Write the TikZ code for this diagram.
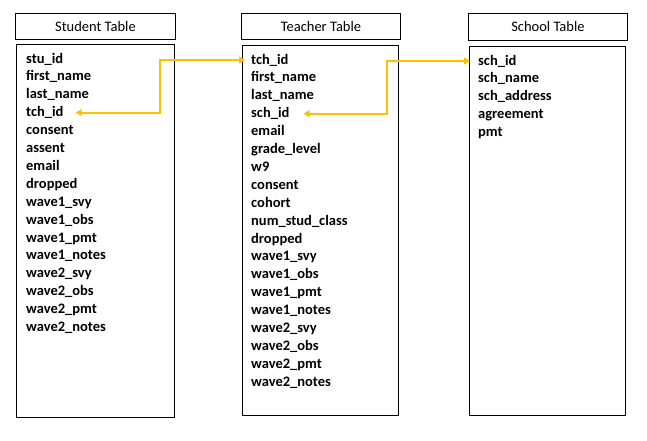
\documentclass[tikz,border=0pt]{standalone}
\usepackage{fontspec}
\setmainfont{Carlito}
\usetikzlibrary{arrows.meta, positioning, calc}
\definecolor{linkorange}{RGB}{255,192,0}
\tikzset{
    tablehead/.style={
        rectangle, draw=black, line width=0.9pt, anchor=north west,
        inner sep=0pt, text centered, font=\fontsize{14.5}{16}\selectfont
    },
    tablebody/.style={
        rectangle, draw=black, line width=0.9pt, anchor=north west, inner sep=0pt
    },
    field/.style={
        anchor=base west, inner sep=0pt, font=\fontsize{14.5}{16}\selectfont\bfseries
    },
    link/.style={
        draw=linkorange, line width=1.8pt,
        {Triangle[width=7pt,length=6pt]}-{Triangle[width=7pt,length=6pt]}
    }
}

\begin{document}
\begin{tikzpicture}[x=1pt, y=-1pt]

\useasboundingbox (0,0) rectangle (647,440);

% Student table
\node[tablehead, minimum width=160pt, minimum height=26pt] (stuhead) at (15,13) {Student Table};
\node[tablebody, minimum width=158pt, minimum height=373pt] (stubody) at (16,44) {};
\foreach \f [count=\i] in {stu\_id, first\_name, last\_name, tch\_id, consent, assent, email, dropped,
    wave1\_svy, wave1\_obs, wave1\_pmt, wave1\_notes, wave2\_svy, wave2\_obs, wave2\_pmt, wave2\_notes}
    \node[field] (stu\i) at (26,{63+17.9*(\i-1)}) {\f};

% Teacher table
\node[tablehead, minimum width=159pt, minimum height=26pt] (tchhead) at (241,13) {Teacher Table};
\node[tablebody, minimum width=156pt, minimum height=370pt] (tchbody) at (242,45) {};
\foreach \f [count=\i] in {tch\_id, first\_name, last\_name, sch\_id, email, grade\_level, w9, consent,
    cohort, num\_stud\_class, dropped, wave1\_svy, wave1\_obs, wave1\_pmt, wave1\_notes,
    wave2\_svy, wave2\_obs, wave2\_pmt, wave2\_notes}
    \node[field] (tch\i) at (251,{64+17.9*(\i-1)}) {\f};

% School table
\node[tablehead, minimum width=159pt, minimum height=27pt] (schhead) at (468,13) {School Table};
\node[tablebody, minimum width=156pt, minimum height=369pt] (schbody) at (469,46) {};
\foreach \f [count=\i] in {sch\_id, sch\_name, sch\_address, agreement, pmt}
    \node[field] (sch\i) at (478,{65+17.9*(\i-1)}) {\f};

% Keys
\coordinate (stukey) at ([xshift=12pt]stu4.east);
\coordinate (tchkey) at ([xshift=-6pt]tch1.west);
\coordinate (tchfk) at ([xshift=14pt]tch4.east);
\coordinate (schkey) at ([xshift=-8pt]sch1.west);
\draw[link] (stukey) -| ($(stukey)!.5!(tchkey)$) |- (tchkey);
\draw[link] (tchfk) -| ($(tchfk)!.5!(schkey)$) |- (schkey);

\end{tikzpicture}
\end{document}
